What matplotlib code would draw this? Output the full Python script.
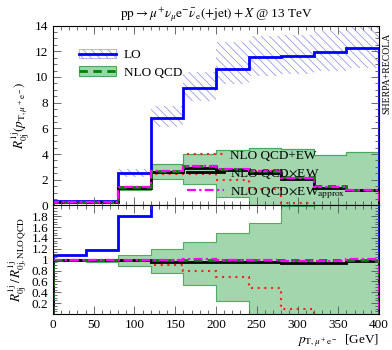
import numpy as np
import matplotlib
matplotlib.use("Agg")
import matplotlib.pyplot as plt
from matplotlib.patches import Patch
from matplotlib.lines import Line2D
from matplotlib.ticker import MultipleLocator, FixedLocator

plt.rcParams["font.family"] = ["Liberation Serif", "DejaVu Serif"]
plt.rcParams["mathtext.fontset"] = "stix"
plt.rcParams["font.size"] = 9.5
plt.rcParams["hatch.linewidth"] = 0.6

# bin edges in GeV
edges = [0, 40, 80, 120, 160, 200, 240, 280, 320, 360, 400]

# upper panel: absolute values
lo = [0.33, 0.35, 2.53, 6.83, 9.16, 10.65, 11.57, 11.6, 11.96, 12.27]
lo_band_low = [0.29, 0.31, 2.2, 6.08, 8.13, 9.45, 10.1, 10.2, 10.5, 10.7]
lo_band_high = [0.37, 0.4, 2.85, 7.74, 10.36, 12.7, 13.2, 13.3, 13.55, 13.85]
nlo = [0.30, 0.30, 1.41, 2.70, 3.05, 2.87, 2.68, 2.20, 1.50, 1.22]

# ratios to NLO QCD
nlo_band_low = [0.98, 0.96, 0.88, 0.75, 0.54, 0.24, -0.5, -0.1, -1.0, -1.5]
nlo_band_high = [1.02, 1.02, 1.08, 1.20, 1.32, 1.50, 1.68, 1.99, 2.6, 3.4]
r_lo = [1.09, 1.17, 1.80, 2.53, 3.0, 3.7, 4.3, 5.3, 8.0, 10.0]
r_qcd_ew = [1.0, 1.0, 0.97, 0.90, 0.80, 0.68, 0.47, 0.10, -0.3, -0.6]
r_qcd_x_ew = [1.0, 1.0, 0.99, 0.95, 0.95, 0.95, 0.95, 0.93, 0.93, 0.97]
r_approx = [1.0, 1.0, 1.0, 1.0, 1.01, 1.0, 1.0, 0.98, 0.98, 1.01]

c_blue = "#0000ff"
c_green = "#008000"
c_fill = "#9dd4a9"
c_fedge = "#4aa85a"
c_hatch = "#9a9aea"
c_red = "#ff2020"
c_mag = "#ff00ff"

red_ls = (0, (1, 2.2))
mag_ls = (0, (4, 1.5, 1, 1.5))
grn_ls = (0, (3, 2))

fig = plt.figure(figsize=(3.92, 3.5), dpi=100)
ax1 = fig.add_axes([0.135, 0.413, 0.832, 0.514])
ax2 = fig.add_axes([0.135, 0.103, 0.832, 0.310])

nlo_a = np.array(nlo)

# ---- upper panel ----
ax1.stairs(lo_band_high, edges, baseline=lo_band_low, fill=True,
           facecolor="none", edgecolor=c_hatch, hatch="\\\\\\\\", lw=0.0)
ax1.stairs(nlo_a * np.array(nlo_band_high), edges,
           baseline=nlo_a * np.array(nlo_band_low), fill=True,
           facecolor=c_fill, edgecolor=c_fedge, lw=0.8, alpha=0.95)
ax1.stairs(nlo_a * np.array(nlo_band_high), edges, color=c_fedge, lw=0.8)
ax1.stairs(lo, edges, color=c_blue, lw=2.0)
ax1.stairs(nlo_a * np.array(r_qcd_ew), edges, color=c_red, lw=1.5, ls=red_ls)
ax1.stairs(nlo_a * np.array(r_qcd_x_ew), edges, color="black", lw=2.0)
ax1.stairs(nlo, edges, color=c_green, lw=2.0, ls=grn_ls)
ax1.stairs(nlo_a * np.array(r_approx), edges, color=c_mag, lw=1.6, ls=mag_ls)

ax1.set_xlim(0, 400)
ax1.set_ylim(0, 14)
ax1.yaxis.set_major_locator(MultipleLocator(2))
ax1.yaxis.set_minor_locator(MultipleLocator(0.5))
ax1.set_ylabel(r"$R^{1\mathrm{j}}_{0\mathrm{j}}(p_{\mathrm{T},\mu^+\mathrm{e}^-})$",
               labelpad=2)
ax1.set_title(r"$\mathrm{pp}\rightarrow\mu^{+}\nu_{\mu}\mathrm{e}^{-}\bar{\nu}_{\mathrm{e}}(+\mathrm{jet})+X$ @ 13 TeV",
              fontsize=9.5, pad=5)
ax1.tick_params(labelbottom=False)

# legends
h_lo = (Patch(facecolor="white", edgecolor=c_hatch, hatch="\\\\\\\\", lw=0.5),
        Line2D([], [], color=c_blue, lw=2.0))
h_nlo = (Patch(facecolor=c_fill, edgecolor=c_fedge, lw=0.8),
         Line2D([], [], color=c_green, lw=2.0, ls=grn_ls))
leg1 = ax1.legend([h_lo, h_nlo], ["LO", "NLO QCD"], loc="upper left",
                  bbox_to_anchor=(0.08, 0.87), frameon=False,
                  handlelength=2.8, handletextpad=0.6, labelspacing=0.4,
                  borderpad=0, borderaxespad=0)
ax1.add_artist(leg1)
h2 = [Line2D([], [], color=c_red, lw=1.5, ls=red_ls),
      Line2D([], [], color="black", lw=2.0),
      Line2D([], [], color=c_mag, lw=1.6, ls=mag_ls)]
ax1.legend(h2, ["NLO QCD+EW", r"NLO QCD$\times$EW",
                r"NLO QCD$\times$EW$_{\mathrm{approx}}$"],
           loc="upper left", bbox_to_anchor=(0.41, 0.31), frameon=False,
           handlelength=2.8, handletextpad=0.5,
           labelspacing=0.35, borderpad=0, borderaxespad=0)

fig.text(0.988, 0.79, "SHERPA+RECOLA", rotation=90, ha="center",
         va="center", fontsize=7)

# ---- lower panel ----
ax2.stairs(nlo_band_high, edges, baseline=nlo_band_low, fill=True,
           facecolor=c_fill, edgecolor=c_fedge, lw=0.8, alpha=0.95)
ax2.stairs(r_lo, edges, color=c_blue, lw=2.0)
ax2.stairs(r_qcd_ew, edges, color=c_red, lw=1.5, ls=red_ls)
ax2.stairs(r_qcd_x_ew, edges, color="black", lw=2.0)
ax2.stairs(np.ones(len(nlo)), edges, color=c_green, lw=2.0, ls=grn_ls)
ax2.stairs(r_approx, edges, color=c_mag, lw=1.6, ls=mag_ls)

ax2.set_xlim(0, 400)
ax2.set_ylim(0, 2)
ax2.yaxis.set_major_locator(FixedLocator([0.2, 0.4, 0.6, 0.8, 1.0, 1.2, 1.4, 1.6, 1.8]))
ax2.yaxis.set_minor_locator(MultipleLocator(0.05))
ax2.set_yticklabels(["0.2", "0.4", "0.6", "0.8", "1", "1.2", "1.4", "1.6", "1.8"])
ax2.set_ylabel(r"$R^{1\mathrm{j}}_{0\mathrm{j}}\,/\,R^{1\mathrm{j}}_{0\mathrm{j},\mathrm{NLO\,QCD}}$",
               labelpad=2)
ax2.set_xlabel(r"$p_{\mathrm{T},\mu^+\mathrm{e}^-}$  [GeV]", loc="right",
               labelpad=1)

for ax in (ax1, ax2):
    ax.xaxis.set_major_locator(MultipleLocator(50))
    ax.xaxis.set_minor_locator(MultipleLocator(10))
    ax.tick_params(which="both", direction="in", top=True, right=True,
                   width=0.6, color="#555555")
    ax.tick_params(which="major", length=6)
    ax.tick_params(which="minor", length=3)
    for s in ax.spines.values():
        s.set_linewidth(0.8)

fig.savefig("out.png", dpi=100)
